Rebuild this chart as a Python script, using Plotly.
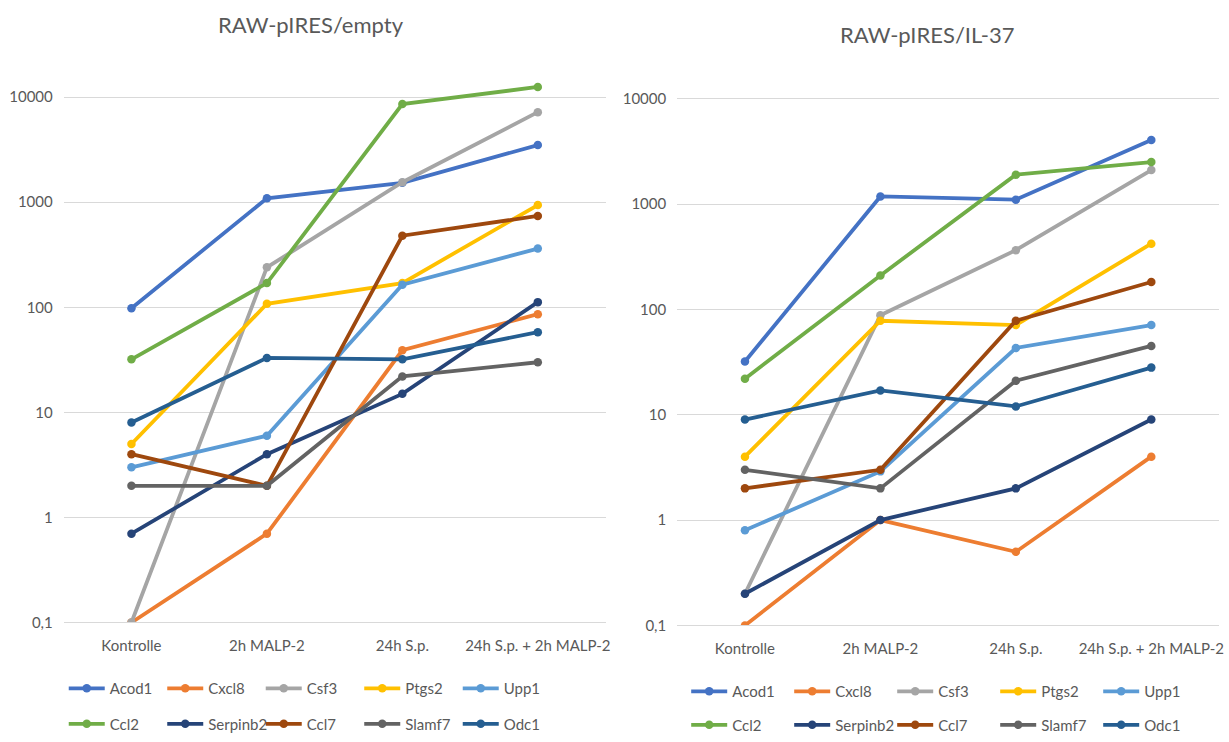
import plotly.graph_objects as go

categories = ["Kontrolle", "2h MALP-2", "24h S.p.", "24h S.p. + 2h MALP-2"]
genes = ["Acod1", "Cxcl8", "Csf3", "Ptgs2", "Upp1", "Ccl2", "Serpinb2", "Ccl7", "Slamf7", "Odc1"]
colors = ["#4472C4", "#ED7D31", "#A5A5A5", "#FFC000", "#5B9BD5",
          "#70AD47", "#264478", "#9E480E", "#636363", "#255E91"]

# RAW-pIRES/empty
empty_acod1 = [98, 1090, 1530, 3500]
empty_cxcl8 = [0.1, 0.7, 39, 86]
empty_csf3 = [0.1, 240, 1550, 7200]
empty_ptgs2 = [5, 108, 170, 940]
empty_upp1 = [3, 6, 164, 362]
empty_ccl2 = [32, 170, 8600, 12500]
empty_serpinb2 = [0.7, 4, 15, 112]
empty_ccl7 = [4, 2, 480, 740]
empty_slamf7 = [2, 2, 22, 30]
empty_odc1 = [8, 33, 32, 58]

# RAW-pIRES/IL-37
il37_acod1 = [32, 1180, 1100, 4050]
il37_cxcl8 = [0.1, 1, 0.5, 4]
il37_csf3 = [0.2, 88, 365, 2100]
il37_ptgs2 = [4, 78, 71, 420]
il37_upp1 = [0.8, 2.9, 43, 71]
il37_ccl2 = [22, 210, 1900, 2500]
il37_serpinb2 = [0.2, 1, 2, 9]
il37_ccl7 = [2, 3, 78, 182]
il37_slamf7 = [3, 2, 21, 45]
il37_odc1 = [9, 17, 12, 28]

tick_vals = [0.1, 1, 10, 100, 1000, 10000]
tick_text = ["0,1", "1", "10", "100", "1000", "10000"]

empty_series = [empty_acod1, empty_cxcl8, empty_csf3, empty_ptgs2, empty_upp1,
                empty_ccl2, empty_serpinb2, empty_ccl7, empty_slamf7, empty_odc1]
il37_series = [il37_acod1, il37_cxcl8, il37_csf3, il37_ptgs2, il37_upp1,
               il37_ccl2, il37_serpinb2, il37_ccl7, il37_slamf7, il37_odc1]

W, H = 1229, 742
FONT = "Lato, 'Open Sans', sans-serif"
TXT = "#595959"

fig = go.Figure()

for panel, series in enumerate([empty_series, il37_series]):
    xa = "x" if panel == 0 else "x2"
    ya = "y" if panel == 0 else "y2"
    for i, (g, vals) in enumerate(zip(genes, series)):
        lg = ["legend", "legend2"][i // 5] if panel == 0 else ["legend3", "legend4"][i // 5]
        fig.add_trace(go.Scatter(
            x=categories, y=vals, name=g, mode="lines+markers",
            line=dict(color=colors[i], width=3.8),
            marker=dict(color=colors[i], size=8.5),
            xaxis=xa, yaxis=ya, legend=lg,
        ))

def px_x(p):
    return p / W

def px_y(p):
    return 1 - p / H

axis_common_y = dict(
    type="log", tickvals=tick_vals, ticktext=tick_text,
    showgrid=True, gridcolor="#D9D9D9", gridwidth=1, zeroline=False,
    showline=False, ticks="", tickfont=dict(family=FONT, size=15, color=TXT),
    ticklabelstandoff=10,
)
axis_common_x = dict(
    type="category", categoryorder="array", categoryarray=categories,
    range=[-0.5, 3.5], showgrid=False, zeroline=False,
    showline=True, linecolor="#D9D9D9", linewidth=1, ticks="",
    tickfont=dict(family=FONT, size=15, color=TXT), ticklabelstandoff=10,
)

# left panel: 0.1 at y=631, decade = 106.5 px, top at 55
left_top = -1 + (631 - 55) / 106.5
right_top = -1 + (634 - 62) / 106.8

fig.update_layout(
    width=W, height=H,
    margin=dict(l=0, r=0, t=0, b=0),
    paper_bgcolor="white", plot_bgcolor="white",
    font=dict(family=FONT, color=TXT),
    xaxis=dict(domain=[px_x(64), px_x(608)], anchor="y", **axis_common_x),
    yaxis=dict(domain=[px_y(631), px_y(55)], anchor="x", range=[-1, left_top], **axis_common_y),
    xaxis2=dict(domain=[px_x(680), px_x(1224)], anchor="y2", **axis_common_x),
    yaxis2=dict(domain=[px_y(634), px_y(62)], anchor="x2", range=[-1, right_top], **axis_common_y),
    showlegend=True,
)

leg_common = dict(orientation="h", xanchor="left", yanchor="middle",
                  font=dict(family=FONT, size=15, color=TXT),
                  bgcolor="rgba(0,0,0,0)", itemwidth=36,
                  entrywidthmode="pixels", itemclick=False, itemdoubleclick=False)
fig.update_layout(
    legend=dict(x=px_x(64), y=px_y(698), entrywidth=47.5, **leg_common),
    legend2=dict(x=px_x(64), y=px_y(734), entrywidth=47.5, **leg_common),
    legend3=dict(x=px_x(689), y=px_y(701), entrywidth=52, **leg_common),
    legend4=dict(x=px_x(689), y=px_y(735), entrywidth=52, **leg_common),
)

fig.add_annotation(text="RAW-pIRES/empty", x=px_x(312), y=px_y(25), xref="paper", yref="paper",
                   showarrow=False, font=dict(family=FONT, size=22, color=TXT),
                   xanchor="center", yanchor="middle")
fig.add_annotation(text="RAW-pIRES/IL-37", x=px_x(931), y=px_y(35), xref="paper", yref="paper",
                   showarrow=False, font=dict(family=FONT, size=22, color=TXT),
                   xanchor="center", yanchor="middle")

fig.write_html("out.html")
